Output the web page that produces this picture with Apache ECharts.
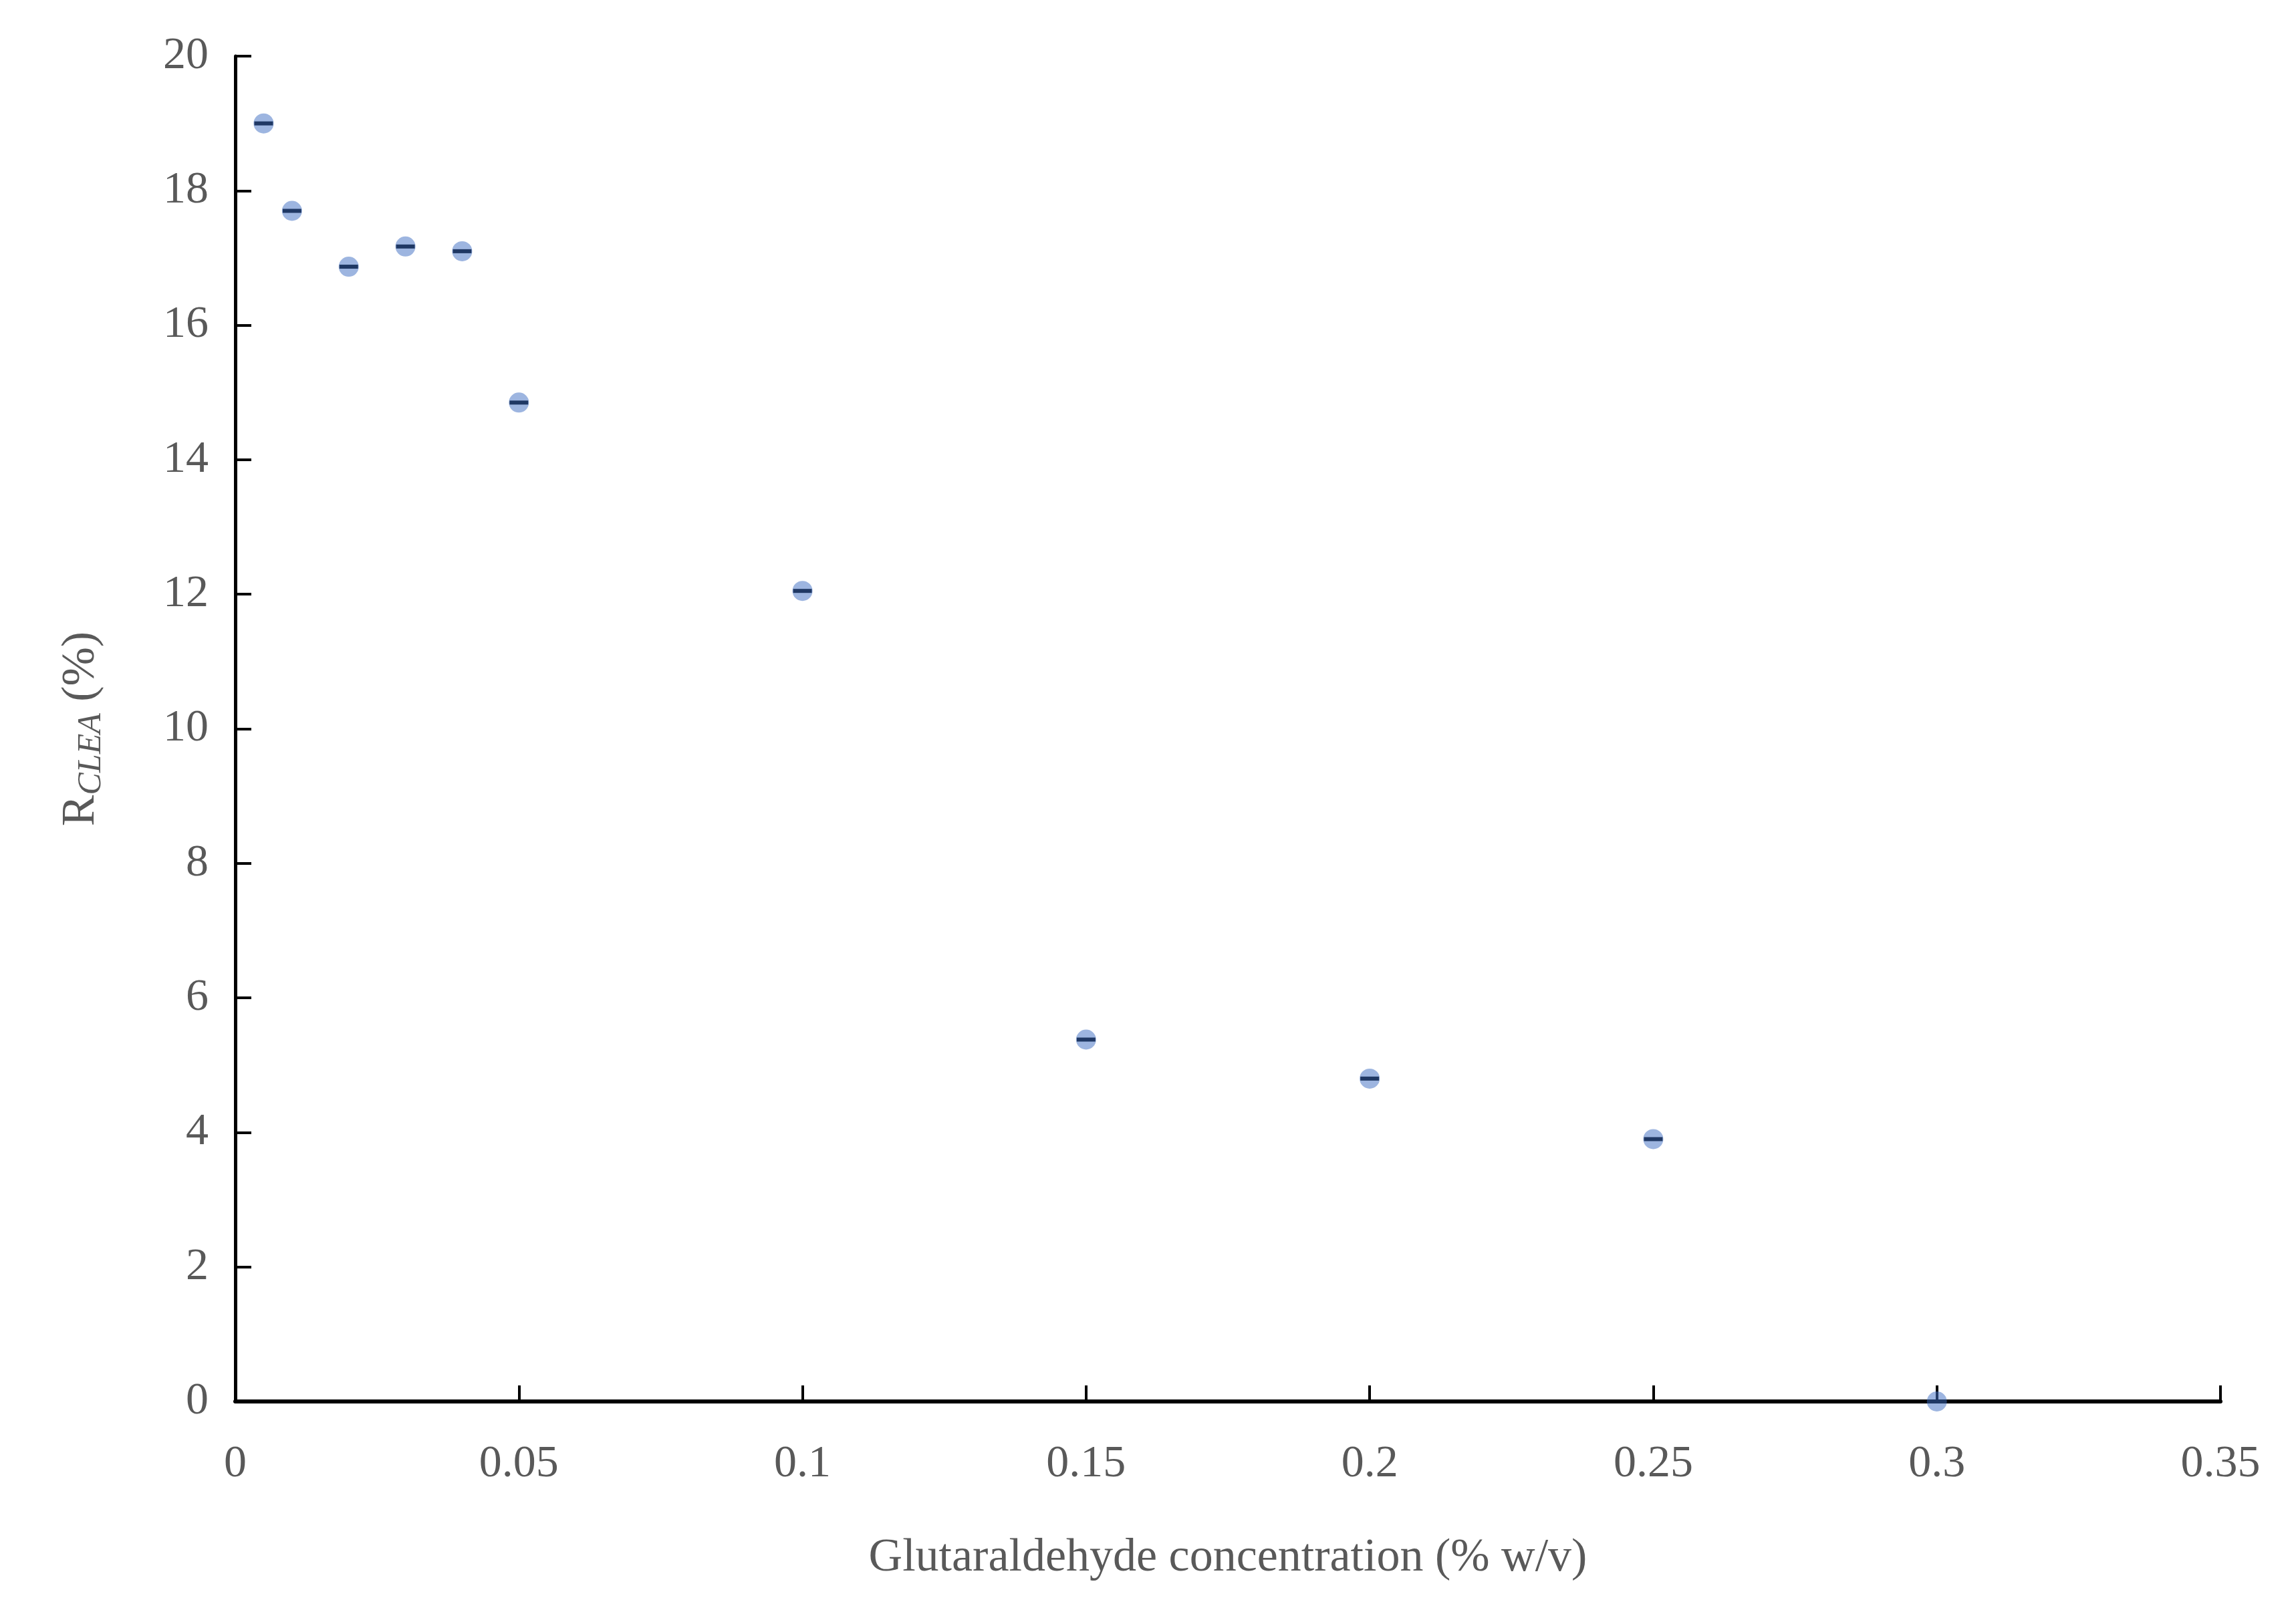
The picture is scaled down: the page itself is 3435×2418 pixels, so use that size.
<!DOCTYPE html>
<html><head><meta charset="utf-8">
<script src="https://cdn.jsdelivr.net/npm/echarts@6/dist/echarts.min.js"></script>
<style>html,body{margin:0;background:#fff}#c{width:3435px;height:2418px}</style>
</head><body><div id="c"></div>
<script>
const concentrations = [0.005, 0.01, 0.02, 0.03, 0.04, 0.05, 0.1, 0.15, 0.2, 0.25, 0.3];
const rclea = [19.0, 17.7, 16.87, 17.17, 17.1, 14.85, 12.05, 5.38, 4.8, 3.9, 0];
const errors = [0.05, 0.05, 0.05, 0.05, 0.05, 0.05, 0.05, 0.05, 0.05, 0.05, 0.05];
const xTicks = [0, 0.05, 0.1, 0.15, 0.2, 0.25, 0.3, 0.35];
const yTicks = [0, 2, 4, 6, 8, 10, 12, 14, 16, 18, 20];

const font = 'Liberation Serif';
const chart = echarts.init(document.getElementById('c'));
const pts = concentrations.map((x, i) => [x, rclea[i]]);
chart.setOption({
  animation: false,
  grid: {left: 352, right: 113, top: 84, bottom: 321},
  xAxis: {
    type: 'value', min: 0, max: 0.35, interval: 0.05,
    name: 'Glutaraldehyde concentration (% w/v)', nameLocation: 'middle', nameGap: 200,
    nameTextStyle: {fontFamily: font, fontSize: 70, color: '#595959'},
    axisLine: {lineStyle: {color: '#000', width: 6}},
    axisTick: {inside: true, length: 24, lineStyle: {color: '#000', width: 4}},
    axisLabel: {fontFamily: font, fontSize: 68, color: '#595959', margin: 60},
    splitLine: {show: false}
  },
  yAxis: {
    type: 'value', min: 0, max: 20, interval: 2,
    name: '{r|R}{s|CLEA}{r| (%)}', nameLocation: 'middle', nameGap: 190, nameRotate: 90,
    nameTextStyle: {rich: {
      r: {fontFamily: font, fontSize: 70, color: '#595959'},
      s: {fontFamily: font, fontSize: 50, fontStyle: 'italic', color: '#595959', verticalAlign: 'bottom', padding: [30, 0, 0, 0]}
    }},
    axisLine: {lineStyle: {color: '#000', width: 5}},
    axisTick: {inside: true, length: 24, lineStyle: {color: '#000', width: 4}},
    axisLabel: {fontFamily: font, fontSize: 68, color: '#595959', margin: 40},
    splitLine: {show: false}
  },
  series: [
    {type: 'scatter', data: pts, symbolSize: 30,
     itemStyle: {color: 'rgba(68,114,196,0.65)'}, z: 3},
    {type: 'custom', z: 4,
     data: pts.map((p, i) => [p[0], p[1], errors[i]]),
     renderItem: (params, api) => {
       const c = api.coord([api.value(0), api.value(1)]);
       return {type: 'line', shape: {x1: c[0] - 14, y1: c[1], x2: c[0] + 14, y2: c[1]},
               style: {stroke: '#1f3864', lineWidth: 6}};
     }}
  ]
});
</script></body></html>
